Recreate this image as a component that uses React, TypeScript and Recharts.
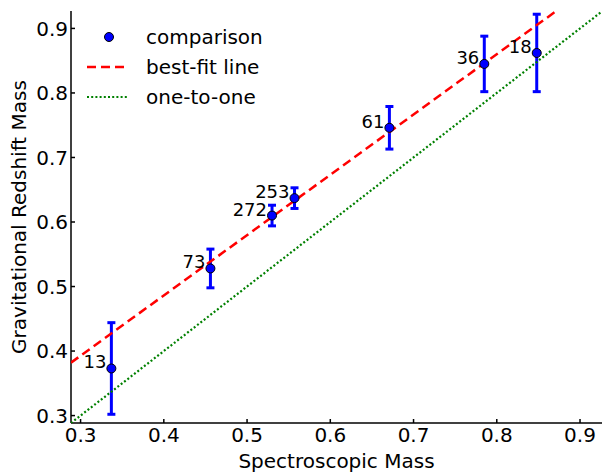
import React from 'react';
import { ComposedChart, Scatter, XAxis, YAxis, ErrorBar, LabelList, Legend, Label } from 'recharts';

// ---- data ----
const pointIds = ['13', '73', '272', '253', '61', '36', '18'];
const spectroscopicMass = [0.337, 0.456, 0.530, 0.557, 0.671, 0.785, 0.848];
const gravRedshiftMass = [0.373, 0.528, 0.610, 0.637, 0.746, 0.845, 0.862];
const gravRedshiftErr = [0.071, 0.030, 0.016, 0.016, 0.033, 0.043, 0.060];

const bestFitX = [0.2885, 0.8715];
const bestFitY = [0.382, 0.927];
const oneToOneX = [0.2885, 0.927];
const oneToOneY = [0.2885, 0.927];

const xTicks = [0.3, 0.4, 0.5, 0.6, 0.7, 0.8, 0.9];
const yTicks = [0.3, 0.4, 0.5, 0.6, 0.7, 0.8, 0.9];
const xDomain = [0.2885, 0.9264];
const yDomain = [0.2885, 0.927];

const legendItems = [
  { name: 'comparison', kind: 'marker' },
  { name: 'best-fit line', kind: 'dashed' },
  { name: 'one-to-one', kind: 'dotted' },
];

const comparison = pointIds.map((id, i) => ({
  id,
  x: spectroscopicMass[i],
  y: gravRedshiftMass[i],
  err: gravRedshiftErr[i],
}));
const bestFit = bestFitX.map((x, i) => ({ x, y: bestFitY[i] }));
const oneToOne = oneToOneX.map((x, i) => ({ x, y: oneToOneY[i] }));

const FONT = "'DejaVu Sans', sans-serif";
const BLUE = '#0000ff';
const RED = '#ff0000';
const GREEN = '#008000';

const Dot = (props: any) => {
  const { cx, cy } = props;
  return <circle cx={cx} cy={cy} r={4.5} fill={BLUE} stroke="#000" strokeWidth={1} />;
};
const NoShape = () => <g />;

const PointLabel = (props: any) => {
  const { x, y, width, height, value } = props;
  const cx = x + (width || 0) / 2;
  const cy = y + (height || 0) / 2;
  return (
    <text x={cx - 5} y={cy - 6.5} textAnchor="end" dominantBaseline="central" fontSize={18} fontFamily={FONT} fill="#000">
      {value}
    </text>
  );
};

const LegendContent = () => (
  <div style={{ fontFamily: FONT, fontSize: 20, color: '#000' }}>
    {legendItems.map((it) => (
      <div key={it.name} style={{ display: 'flex', alignItems: 'center', height: 30 }}>
        <svg width={56} height={30} style={{ display: 'block' }}>
          {it.kind === 'marker' && <circle cx={29} cy={15} r={4.5} fill={BLUE} stroke="#000" strokeWidth={1} />}
          {it.kind === 'dashed' && (
            <line x1={7} y1={15} x2={48} y2={15} stroke={RED} strokeWidth={2.5} strokeDasharray="9 5" />
          )}
          {it.kind === 'dotted' && (
            <line x1={7} y1={15} x2={49} y2={15} stroke={GREEN} strokeWidth={2.2} strokeDasharray="2 2.2" />
          )}
        </svg>
        <span style={{ marginLeft: 10, lineHeight: '30px' }}>{it.name}</span>
      </div>
    ))}
  </div>
);

const YLabel = (props: any) => {
  const { viewBox } = props;
  const cx = 19;
  const cy = viewBox.y + viewBox.height / 2;
  return (
    <text x={cx} y={cy} transform={`rotate(-90, ${cx}, ${cy})`} textAnchor="middle" dominantBaseline="central" fontSize={20} fontFamily={FONT} fill="#000">
      Gravitational Redshift Mass
    </text>
  );
};

export default function App() {
  return (
    <div style={{ position: 'absolute', left: 0, top: 0, background: '#fff' }}>
      <ComposedChart width={602} height={474} margin={{ top: 11, right: 0, left: 0, bottom: 0 }} style={{ fontFamily: FONT }}>
        <XAxis
          xAxisId="b"
          type="number"
          dataKey="x"
          domain={xDomain}
          ticks={xTicks}
          allowDataOverflow
          height={51}
          tickSize={-4}
          tickMargin={9}
          tick={{ fill: '#000', fontSize: 20, fontFamily: FONT }}
          axisLine={{ stroke: '#000', strokeWidth: 1.5 }}
          tickLine={{ stroke: '#000', strokeWidth: 1.5 }}
          tickFormatter={(v: number) => v.toFixed(1)}
        >
          <Label value="Spectroscopic Mass" position="insideBottom" offset={6} fontSize={20} fontFamily={FONT} fill="#000" />
        </XAxis>
        <XAxis
          xAxisId="t"
          orientation="top"
          type="number"
          dataKey="x"
          domain={xDomain}
          ticks={xTicks}
          allowDataOverflow
          height={0}
          tickSize={-4}
          tick={false}
          axisLine={{ stroke: '#000', strokeWidth: 1.5 }}
          tickLine={{ stroke: '#000', strokeWidth: 1.5 }}
        />
        <YAxis
          yAxisId="l"
          type="number"
          dataKey="y"
          domain={yDomain}
          ticks={yTicks}
          allowDataOverflow
          width={71}
          tickSize={-4}
          tickMargin={7}
          tick={{ fill: '#000', fontSize: 20, fontFamily: FONT }}
          axisLine={{ stroke: '#000', strokeWidth: 1.5 }}
          tickLine={{ stroke: '#000', strokeWidth: 1.5 }}
          tickFormatter={(v: number) => v.toFixed(1)}
        >
          <Label content={<YLabel />} />
        </YAxis>
        <YAxis
          yAxisId="r"
          orientation="right"
          type="number"
          dataKey="y"
          domain={yDomain}
          ticks={yTicks}
          allowDataOverflow
          width={0}
          tickSize={-4}
          tick={false}
          axisLine={{ stroke: '#000', strokeWidth: 1.5 }}
          tickLine={{ stroke: '#000', strokeWidth: 1.5 }}
        />
        <Scatter
          xAxisId="b"
          yAxisId="l"
          name="one-to-one"
          data={oneToOne}
          line={{ stroke: GREEN, strokeWidth: 2.2, strokeDasharray: '2 2.2' }}
          shape={<NoShape />}
          isAnimationActive={false}
          legendType="none"
        />
        <Scatter
          xAxisId="b"
          yAxisId="l"
          name="best-fit line"
          data={bestFit}
          line={{ stroke: RED, strokeWidth: 2.5, strokeDasharray: '9 5' }}
          shape={<NoShape />}
          isAnimationActive={false}
          legendType="none"
        />
        <Scatter
          xAxisId="b"
          yAxisId="l"
          name="comparison"
          data={comparison}
          shape={<Dot />}
          isAnimationActive={false}
        >
          <ErrorBar dataKey="err" direction="y" width={4} stroke={BLUE} strokeWidth={3} isAnimationActive={false} />
          <LabelList dataKey="id" content={<PointLabel />} />
        </Scatter>
        <Legend
          layout="vertical"
          align="center"
          verticalAlign="middle"
          content={<LegendContent />}
          wrapperStyle={{ left: 80, top: 22, width: 240, height: 90 }}
        />
      </ComposedChart>
    </div>
  );
}
